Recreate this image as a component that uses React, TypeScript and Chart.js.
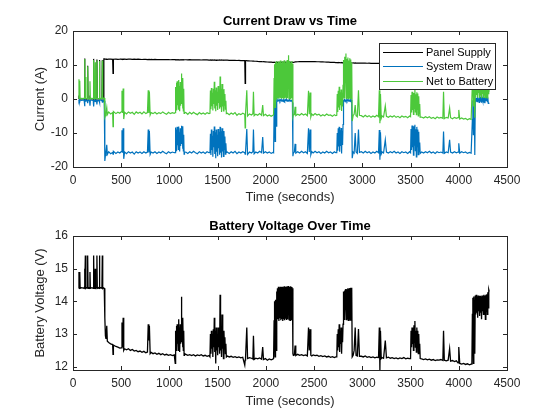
import React, { useRef, useEffect } from 'react';
import { Chart, registerables } from 'chart.js';

Chart.register(...registerables);

const AXIS_COLOR = '#262626';
const FONT = "'Liberation Sans', Arial, Helvetica, sans-serif";

const PANEL_COLOR = '#000000';
const SYSTEM_COLOR = '#0072BD';
const NET_COLOR = '#4CC83A';
const VOLT_COLOR = '#000000';

// sample times in seconds, shared by all four logged channels
const timeS = [
    // start-up, battery floating
    60, 62, 66, 70, 74, 90, 112, 116, 120, 124,
    128, 134, 148, 152, 156, 162, 172, 176, 180, 196,
    210, 214, 218, 226, 230, 234, 244, 248, 252, 262,
    270, 274, 278, 290, 300, 304, 308, 314, 320, 324,
    // load switched on
    330, 336, 342, 350, 356, 370, 390, 411, 415, 419,
    445, 465, 485, 500, 508, 514, 520, 526, 535, 555,
    575, 595, 615, 635, 655, 675, 695, 715, 735, 755,
    772, 780, 786, 792, 800, 810, 830, 850, 870, 890,
    910, 930, 950, 970, 990, 1010, 1030, 1050,
    1060, 1064, 1068, 1072, 1076, 1080, 1084, 1088, 1092, 1096,
    1100, 1104, 1108, 1112, 1116, 1120, 1124, 1128, 1132, 1136,
    1140, 1144, 1148, 1152, 1156,
    1170, 1190, 1210, 1230, 1250, 1270, 1290, 1310, 1330, 1350, 1370, 1390, 1410,
    1420, 1425, 1430, 1435, 1440, 1445, 1450, 1455, 1460, 1465,
    1470, 1475, 1480, 1485, 1490, 1495, 1500, 1505, 1510, 1515,
    1520, 1525, 1530, 1535, 1540, 1545, 1550, 1555, 1560, 1565,
    1570, 1575, 1580, 1585, 1590,
    1600, 1620, 1640, 1660, 1680, 1700, 1720, 1740, 1760, 1781,
    1785, 1789, 1802, 1810, 1830, 1850, 1865, 1871, 1878, 1895,
    1915, 1935, 1955, 1967, 1975, 1995, 2015, 2035, 2055, 2072,
    2080, 2085, 2090, 2095, 2100, 2105, 2110, 2115, 2120, 2125,
    2130, 2135, 2140, 2145, 2150, 2155, 2160, 2165, 2170, 2175,
    2180, 2185, 2190, 2195, 2200, 2205, 2210, 2215, 2220, 2225,
    2230, 2235, 2240, 2245, 2250, 2255, 2260, 2265, 2270, 2275,
    2280, 2285,
    2295, 2303, 2310, 2330, 2350, 2370, 2390, 2410, 2430, 2442,
    2450, 2458, 2466, 2475, 2490, 2510, 2530, 2550, 2570, 2590,
    2610, 2630, 2650, 2670, 2690, 2710, 2725,
    2735, 2740, 2745, 2750, 2755, 2760, 2765, 2770, 2775, 2780,
    2785, 2790, 2795, 2800, 2805, 2810, 2815, 2820, 2825, 2830,
    2835, 2840, 2845, 2850, 2855, 2860, 2865, 2870, 2875, 2880,
    2885, 2890, 2895, 2905, 2915, 2926, 2935, 2948, 2960, 2970,
    2990, 3010, 3030, 3050, 3070, 3090, 3110, 3130, 3150, 3168,
    3176, 3182, 3188, 3196, 3205, 3220, 3238, 3250, 3270, 3290,
    3310, 3330, 3350, 3370, 3390, 3410, 3430, 3450, 3470, 3490,
    3500, 3505, 3510, 3515, 3520, 3525, 3530, 3535, 3540, 3545,
    3550, 3555, 3560, 3565, 3570, 3575, 3580, 3585, 3590, 3595,
    3600,
    3615, 3635, 3655, 3675, 3695, 3715, 3735, 3755, 3775, 3795,
    3815, 3835, 3842, 3850, 3870, 3890, 3905, 3915, 3935, 3955,
    3975, 3992, 4000, 4010, 4030, 4050, 4070, 4090, 4110, 4128,
    4136, 4141, 4146, 4151, 4156, 4161, 4166, 4171, 4176, 4181,
    4186, 4191, 4196, 4201, 4206, 4211, 4216, 4221, 4226, 4231,
    4236, 4241, 4246, 4251, 4256, 4261, 4266, 4271, 4276, 4281,
    4286, 4291, 4296, 4301, 4306, 4311, 4316,
];

// amps from the panel
const panelSupply = [
    0, 0.3, 0, 0.2, 0, 0.1, 0, 0, 11.9, 0,
    0.2, 0, 0, 9.8, 0, 0, 0, 0.3, 0, 0,
    0, 11.8, 0, 0, 0.4, 0, 0, 11.6, 0, 0,
    0, 11.5, 0, 0, 0, 11.4, 0, 0, 11.8, 11.8,
    11.8, 11.75, 11.7, 11.72, 11.68, 11.74, 11.7, 11.66, 7.5, 11.7,
    11.72, 11.68, 11.7, 11.74, 11.66, 11.7, 11.68, 11.72, 11.7, 11.66,
    11.7, 11.73, 11.67, 11.7, 11.64, 11.7, 11.66, 11.62, 11.68, 11.64,
    11.6, 11.66, 11.62, 11.65, 11.6, 11.64, 11.6, 11.66, 11.58, 11.62,
    11.6, 11.56, 11.62, 11.58, 11.6, 11.55, 11.6, 11.56,
    11.56, 11.54, 11.57, 11.55, 11.53, 11.56, 11.54, 11.55, 11.57, 11.53,
    11.55, 11.56, 11.54, 11.55, 11.53, 11.56, 11.54, 11.55, 11.57, 11.54,
    11.55, 11.53, 11.56, 11.54, 11.55,
    11.55, 11.52, 11.56, 11.5, 11.54, 11.49, 11.53, 11.5, 11.47, 11.52, 11.48, 11.5, 11.46,
    11.46, 11.5, 11.45, 11.48, 11.47, 11.44, 11.49, 11.46, 11.45, 11.48,
    11.44, 11.47, 11.45, 11.46, 11.43, 11.47, 11.44, 11.46, 11.45, 11.42,
    11.46, 11.44, 11.45, 11.43, 11.46, 11.42, 11.45, 11.43, 11.44, 11.41,
    11.45, 11.43, 11.44, 11.42, 11.43,
    11.42, 11.38, 11.4, 11.35, 11.37, 11.32, 11.34, 11.3, 11.28, 11.3,
    4.6, 11.25, 11.27, 11.24, 11.2, 11.18, 11.15, 11.17, 11.12, 11.1,
    11.05, 11.02, 10.98, 10.95, 10.97, 10.92, 10.88, 10.85, 10.82, 10.8,
    10.8, 10.82, 10.79, 10.81, 10.8, 10.78, 10.8, 10.82, 10.79, 10.8,
    10.81, 10.78, 10.8, 10.79, 10.81, 10.8, 10.78, 10.8, 10.82, 10.79,
    10.8, 10.81, 10.78, 10.8, 10.79, 10.81, 10.8, 10.78, 10.8, 10.82,
    10.79, 10.8, 10.81, 10.78, 10.8, 10.79, 10.81, 10.8, 10.78, 10.8,
    10.82, 10.8,
    10.85, 10.9, 10.92, 10.95, 10.98, 11.0, 11.02, 11.0, 11.03, 11.0,
    11.02, 10.99, 11.01, 10.98, 11.0, 10.97, 10.95, 10.96, 10.92, 10.9,
    10.88, 10.86, 10.84, 10.8, 10.78, 10.75, 10.72,
    10.7, 10.72, 10.68, 10.7, 10.71, 10.67, 10.7, 10.69, 10.66, 10.68,
    10.7, 10.65, 10.68, 10.66, 10.67, 10.64, 10.66, 10.65, 10.63, 10.66,
    10.64, 10.62, 10.65, 10.63, 10.61, 10.64, 10.62, 10.6, 10.63, 10.61,
    10.6, 10.62, 10.59, 10.6, 10.58, 10.6, 10.57, 10.59, 10.56, 10.58,
    10.56, 10.54, 10.55, 10.52, 10.53, 10.5, 10.52, 10.49, 10.5, 10.48,
    10.5, 10.47, 10.49, 10.46, 10.48, 10.46, 10.47, 10.44, 10.46, 10.43,
    10.45, 10.42, 10.44, 10.41, 10.43, 10.4, 10.42, 10.39, 10.41, 10.38,
    10.38, 10.4, 10.37, 10.39, 10.36, 10.38, 10.37, 10.39, 10.36, 10.38,
    10.35, 10.37, 10.36, 10.38, 10.35, 10.37, 10.34, 10.36, 10.35, 10.37,
    10.34,
    10.35, 10.33, 10.34, 10.32, 10.33, 10.31, 10.32, 10.3, 10.31, 10.29,
    10.3, 10.28, 10.3, 10.27, 10.29, 10.27, 10.28, 10.26, 10.27, 10.25,
    10.26, 10.24, 10.25, 10.24, 10.22, 10.23, 10.21, 10.22, 10.2, 10.21,
    10.2, 10.21, 10.19, 10.2, 10.18, 10.2, 10.19, 10.21, 10.2, 10.18,
    10.2, 10.19, 10.2, 10.18, 10.2, 10.19, 10.21, 10.2, 10.18, 10.19,
    10.2, 10.18, 10.2, 10.19, 10.17, 10.2, 10.18, 10.19, 10.17, 10.2,
    10.18, 10.19, 10.17, 10.18, 10.2, 10.18, 10.17,
];

// amps drawn by the system (negative = consumed)
const systemDraw = [
    -0.3, -0.6, -0.2, -0.8, -0.3, -0.4, -0.3, -0.5, -2.1, -0.4,
    -0.6, -0.3, -0.5, -1.2, -0.4, -0.3, -0.6, -2.0, -0.4, -0.3,
    -0.5, -2.2, -0.4, -0.3, -0.7, -0.4, -0.3, -1.6, -0.4, -0.5,
    -0.3, -1.0, -0.4, -0.3, -0.5, -0.9, -0.4, -0.3, -0.6, -0.5,
    -18.2, -16.6, -15.6, -13.5, -16.3, -15.5, -16.1, -15.7, -16.2, -15.4,
    -16.0, -15.6, -15.9, -15.5, -9.2, -15.8, -8.6, -17.6, -15.6, -16.1,
    -15.5, -15.9, -15.6, -16.2, -15.5, -15.9, -15.6, -16.0, -15.5, -15.9,
    -15.6, -9.0, -15.7, -9.4, -16.3, -15.6, -15.9, -15.5, -16.0, -15.6,
    -15.9, -15.4, -15.8, -16.1, -15.5, -15.9, -15.6, -15.8,
    -15.8, -8.4, -15.2, -9.0, -14.3, -8.2, -13.6, -9.5, -14.8, -8.1,
    -14.0, -9.8, -15.4, -8.6, -13.8, -9.2, -7.9, -13.2, -8.5, -14.6,
    -8.0, -15.3, -10.5, -16.2, -15.7,
    -15.6, -16.0, -15.5, -15.9, -15.4, -15.8, -16.1, -15.5, -15.9, -15.6, -16.0, -15.5, -15.8,
    -15.8, -10.2, -16.5, -9.0, -15.0, -10.8, -17.0, -9.4, -14.2, -8.1,
    -16.2, -9.8, -17.4, -9.0, -15.5, -10.5, -16.8, -8.8, -14.5, -9.6,
    -16.4, -8.2, -15.8, -9.5, -17.2, -8.6, -15.4, -10.2, -16.9, -9.4,
    -14.8, -11.0, -16.2, -13.0, -15.8,
    -15.6, -16.0, -15.5, -15.9, -15.4, -16.1, -15.6, -15.9, -15.5, -15.8,
    -16.2, -15.7, -8.8, -16.3, -15.6, -15.9, -15.5, -9.0, -16.1, -15.6,
    -15.9, -15.4, -15.8, -11.2, -15.9, -15.5, -15.9, -15.6, -16.0, -15.7,
    -15.8, -4.0, -1.2, -12.5, -0.8, -8.0, -0.5, -0.3, -0.6, -0.2,
    -0.5, -0.4, -0.3, -0.6, -0.2, -0.4, -0.5, -0.3, -0.6, -0.4,
    -0.2, -0.5, -0.3, -0.6, -0.4, -0.3, -0.5, -0.2, -0.6, -0.4,
    -0.3, -0.5, -0.4, -0.2, -0.6, -0.3, -0.5, -0.4, -0.6, -1.0,
    -16.8, -15.9,
    -15.6, -13.2, -15.9, -15.5, -15.9, -15.4, -15.8, -15.5, -16.0, -8.6,
    -15.6, -9.0, -16.4, -15.5, -15.9, -15.4, -15.8, -15.5, -16.0, -15.6,
    -15.9, -15.4, -15.8, -15.6, -16.0, -15.5, -15.8,
    -15.8, -10.0, -15.2, -8.6, -14.0, -8.2, -15.5, -9.2, -13.8, -8.5,
    -16.0, -9.4, -13.5, -7.5, -0.5, -0.3, -0.6, -0.2, -0.4, -0.5,
    -0.3, -0.6, -0.2, -0.4, -0.5, -0.3, -0.6, -0.4, -0.2, -0.5,
    -0.3, -1.0, -17.4, -15.6, -15.9, -10.0, -15.6, -16.0, -9.0, -15.7,
    -15.5, -15.9, -15.4, -15.8, -15.5, -16.0, -15.6, -15.9, -15.4, -15.8,
    -9.1, -17.9, -9.8, -16.2, -15.6, -15.9, -12.0, -15.6, -15.9, -15.5,
    -15.8, -15.4, -15.9, -15.6, -16.0, -15.5, -15.8, -15.6, -16.0, -15.5,
    -15.8, -8.8, -15.0, -7.8, -14.2, -8.5, -16.5, -8.0, -13.6, -7.6,
    -15.2, -8.9, -17.0, -8.2, -14.0, -9.0, -16.4, -9.6, -15.5, -12.8,
    -16.0,
    -15.6, -15.9, -15.5, -15.8, -15.4, -15.9, -15.6, -16.0, -15.5, -15.8,
    -15.6, -15.9, -9.6, -16.0, -15.6, -15.8, -12.0, -15.6, -15.9, -15.5,
    -15.8, -15.6, -13.0, -15.9, -15.5, -15.8, -15.6, -16.0, -15.7, -15.9,
    -15.9, -6.0, -0.4, -10.5, -0.3, -1.0, -16.5, -0.2, 0.5, -0.6,
    0.3, -0.8, 0.6, -0.4, 0.2, -1.0, 0.4, -0.6, 0.7, -0.3,
    -1.1, 0.5, -0.5, 0.2, -0.9, 0.6, -0.4, -1.2, 0.3, -0.6,
    0.5, -0.2, -0.8, 0.4, -1.3, -1.2, -1.3,
];

// amps into (+) or out of (-) the battery
const netToBattery = [
    0.2, 5.8, 0.3, 5.4, 0.1, 0.2, 0.1, 0.3, 11.8, 0.2,
    6.5, 0.2, 0.1, 9.6, 0.2, 0.1, 0.3, 5.2, 0.1, 0.2,
    0.1, 11.5, 0.3, 0.1, 10.8, 0.2, 0.1, 11.4, 0.3, 0.1,
    0.2, 11.2, 0.1, 0.2, 0.1, 11.3, 0.2, 0.1, 0.3, 0.3,
    -5.4, -4.9, -3.9, -2.5, -4.6, -3.8, -4.4, -4.0, -8.1, -3.7,
    -4.3, -3.9, -4.2, -3.8, 2.4, -4.1, 3.1, -5.9, -3.9, -4.4,
    -3.8, -4.2, -3.9, -4.5, -3.8, -4.2, -3.9, -4.4, -3.8, -4.3,
    -4.0, 2.6, -4.1, 2.2, -4.7, -4.0, -4.3, -3.9, -4.4, -4.0,
    -4.3, -3.8, -4.2, -4.5, -3.9, -4.3, -4.0, -4.2,
    -4.0, 3.5, -3.2, 4.8, -2.5, 5.2, -1.8, 4.1, -3.0, 5.6,
    -2.2, 3.8, -3.6, 5.0, -2.0, 4.4, 7.5, -1.5, 5.3, -2.8,
    6.2, -3.5, 3.0, -4.2, -3.9,
    -4.0, -4.5, -3.9, -4.4, -3.9, -4.3, -4.6, -4.0, -4.4, -4.1, -4.5, -4.0, -4.3,
    -4.2, 2.5, -3.0, 3.2, -2.1, 1.8, -3.4, 3.0, -1.5, 5.1,
    -2.8, 2.6, -3.6, 3.4, -2.0, 2.1, -3.2, 3.8, -1.2, 2.8,
    -2.9, 6.6, -2.4, 3.0, -3.8, 4.4, -2.2, 2.4, -3.5, 2.9,
    -1.8, 1.5, -3.0, -0.5, -4.3,
    -4.2, -4.6, -4.1, -4.5, -4.0, -4.8, -4.3, -4.6, -4.2, -4.5,
    -8.5, -4.4, 2.6, -5.0, -4.4, -4.7, -4.3, 2.1, -4.9, -4.5,
    -4.8, -4.3, -4.8, -1.8, -4.9, -4.5, -5.0, -4.7, -5.1, -4.8,
    -4.6, 6.0, 10.2, -2.5, 10.8, 0.5, 11.2, 0.1, 10.6, 0.3,
    11.0, 0.0, 10.7, 0.4, 11.3, 0.2, 10.5, 0.1, 11.1, 0.3,
    10.8, 0.0, 11.4, 0.2, 10.6, 0.4, 11.0, 0.1, 11.5, 0.3,
    10.9, 12.9, 0.2, 11.2, 0.0, 10.7, 0.3, 11.1, 0.2, 10.4,
    -5.2, -4.6,
    -4.6, -2.3, -4.9, -4.5, -4.8, -4.3, -4.7, -4.4, -4.9, 2.4,
    -4.5, 1.9, -5.3, -4.4, -4.8, -4.3, -4.7, -4.5, -5.0, -4.6,
    -4.9, -4.4, -4.8, -4.7, -5.1, -4.6, -4.9,
    -4.8, 1.5, -3.8, 2.4, -2.5, 3.6, -3.2, 2.0, -1.8, 2.8,
    -3.5, 1.8, -2.2, 4.0, 11.5, 0.3, 12.4, 0.5, 11.0, 13.4,
    0.2, 11.8, 0.4, 12.2, 0.1, 11.3, 0.5, 12.0, 0.2, 11.6,
    0.3, 10.8, -6.5, -4.8, -4.5, -1.8, -4.9, -5.2, 2.6, -4.8,
    -4.9, -5.3, -4.8, -5.2, -4.9, -5.4, -5.0, -5.3, -4.8, -5.2,
    2.6, -7.1, 1.5, -5.7, -5.0, -5.3, -2.0, -5.1, -5.4, -5.0,
    -5.3, -4.9, -5.4, -5.1, -5.5, -5.0, -5.3, -5.1, -5.5, -5.0,
    -5.2, 1.2, -4.0, 2.1, -3.2, 1.5, -4.5, 1.8, -2.8, 2.9,
    -3.8, 1.4, -4.6, 2.0, -3.0, 1.6, -5.0, 0.8, -4.2, -1.5,
    -5.4,
    -5.3, -5.6, -5.2, -5.5, -5.2, -5.7, -5.4, -5.8, -5.3, -5.6,
    -5.4, -5.7, 2.1, -5.8, -5.4, -5.6, -2.7, -5.5, -5.8, -5.4,
    -5.7, -5.5, -3.2, -5.9, -5.6, -5.9, -5.7, -6.1, -5.8, -6.0,
    -6.0, 4.5, 6.0, -2.0, 5.2, 1.5, -5.5, 3.6, 0.6, 4.8,
    1.2, 3.4, 0.4, 5.0, 1.8, 3.0, 0.3, 4.2, 1.0, 3.5,
    0.2, 4.6, 1.5, 3.2, 0.5, 5.5, 1.2, 2.8, 0.4, 4.0,
    1.0, 3.6, 0.3, 4.4, 1.6, 3.0, 2.2,
];

// battery terminal voltage
const batteryVoltage = [
    14.4, 14.9, 14.4, 14.9, 14.4, 14.42, 14.4, 14.42, 15.0, 14.4,
    15.4, 14.4, 14.42, 15.4, 14.4, 14.42, 14.4, 14.9, 14.4, 14.42,
    14.4, 15.4, 14.4, 14.42, 15.0, 14.4, 14.42, 15.4, 14.4, 14.42,
    14.4, 15.4, 14.4, 14.42, 14.4, 15.4, 14.4, 14.42, 14.4, 14.4,
    13.5, 12.95, 12.85, 13.25, 12.78, 12.74, 12.7, 12.68, 12.38, 12.66,
    12.62, 12.6, 12.57, 12.58, 13.35, 12.6, 13.5, 12.5, 12.55, 12.52,
    12.55, 12.5, 12.53, 12.48, 12.5, 12.46, 12.48, 12.44, 12.47, 12.43,
    12.45, 13.3, 12.8, 13.25, 12.4, 12.44, 12.4, 12.42, 12.38, 12.41,
    12.37, 12.4, 12.36, 12.38, 12.35, 12.37, 12.34, 12.36,
    12.1, 13.1, 12.5, 13.25, 12.6, 13.3, 12.7, 13.2, 12.5, 13.45,
    12.65, 13.2, 12.45, 13.3, 12.7, 13.25, 14.14, 12.75, 13.3, 12.6,
    13.5, 12.5, 13.1, 12.35, 12.4,
    12.38, 12.35, 12.37, 12.34, 12.37, 12.33, 12.36, 12.34, 12.37, 12.33, 12.35, 12.32, 12.34,
    12.3, 13.0, 12.4, 13.1, 12.55, 13.0, 12.3, 13.15, 12.6, 13.5,
    12.45, 13.1, 12.1, 13.2, 12.5, 13.0, 12.35, 13.2, 12.6, 13.1,
    12.4, 14.2, 12.5, 13.15, 12.3, 13.6, 12.55, 13.05, 12.25, 13.1,
    12.6, 12.9, 12.4, 12.7, 12.3,
    12.33, 12.3, 12.32, 12.29, 12.31, 12.28, 12.3, 12.27, 12.29, 12.05,
    12.2, 12.27, 13.2, 12.25, 12.28, 12.26, 12.24, 12.95, 12.22, 12.26,
    12.24, 12.27, 12.23, 12.6, 12.22, 12.25, 12.2, 12.24, 12.21, 12.23,
    12.25, 13.4, 14.0, 12.3, 14.05, 12.5, 14.3, 13.5, 14.4, 13.45,
    14.45, 13.4, 14.42, 13.48, 14.45, 13.42, 14.44, 13.46, 14.45, 13.4,
    14.43, 13.45, 14.46, 13.42, 14.44, 13.47, 14.45, 13.43, 14.46, 13.45,
    14.44, 14.47, 13.44, 14.45, 13.42, 14.46, 13.46, 14.44, 13.43, 14.4,
    12.4, 12.35,
    12.36, 12.65, 12.34, 12.38, 12.35, 12.37, 12.34, 12.36, 12.33, 13.2,
    12.5, 13.15, 12.35, 12.33, 12.36, 12.34, 12.35, 12.32, 12.34, 12.31,
    12.33, 12.3, 12.32, 12.29, 12.31, 12.28, 12.3,
    12.3, 13.0, 12.5, 13.15, 12.6, 13.3, 12.45, 13.1, 12.7, 13.2,
    12.4, 13.05, 12.75, 13.3, 14.3, 13.45, 14.33, 13.5, 14.35, 14.38,
    13.44, 14.37, 13.48, 14.4, 13.42, 14.39, 13.46, 14.41, 13.43, 14.42,
    13.47, 14.42, 12.3, 12.35, 12.5, 13.2, 12.35, 12.33, 13.15, 12.32,
    12.32, 12.3, 12.33, 12.29, 12.31, 12.28, 12.3, 12.27, 12.29, 12.28,
    13.2, 11.9, 13.1, 12.25, 12.28, 12.26, 12.8, 12.27, 12.29, 12.26,
    12.28, 12.25, 12.27, 12.24, 12.27, 12.25, 12.28, 12.24, 12.26, 12.25,
    12.25, 13.1, 12.6, 13.2, 12.7, 13.15, 12.5, 13.27, 12.75, 13.4,
    12.6, 13.1, 12.45, 13.2, 12.7, 13.1, 12.4, 13.0, 12.5, 12.7,
    12.25,
    12.24, 12.22, 12.24, 12.21, 12.23, 12.2, 12.22, 12.19, 12.21, 12.2,
    12.22, 12.19, 13.1, 12.2, 12.18, 12.2, 12.55, 12.17, 12.19, 12.16,
    12.18, 12.12, 12.6, 12.1, 12.08, 12.1, 12.07, 12.09, 12.06, 12.08,
    12.1, 13.6, 14.11, 12.1, 14.15, 13.55, 12.4, 14.18, 13.6, 14.2,
    13.65, 14.15, 13.5, 14.18, 13.7, 14.16, 13.55, 14.17, 13.65, 14.14,
    13.45, 14.18, 13.7, 14.16, 13.6, 14.2, 13.75, 14.17, 13.45, 14.2,
    13.7, 14.22, 13.6, 14.28, 13.8, 14.36, 14.3,
];

const timeTicks = [0, 500, 1000, 1500, 2000, 2500, 3000, 3500, 4000, 4500];
const currentTicks = [-20, -10, 0, 10, 20];
const voltageTicks = [12, 13, 14, 15, 16];

const toPoints = (values: number[]) => timeS.map((t, i) => ({ x: t, y: values[i] }));

// matlab style box with inward ticks on all four sides
const axesBox = {
    id: 'axesBox',
    afterDatasetsDraw(chart: any) {
        const { ctx, chartArea: a, scales } = chart;
        const len = 4;
        ctx.save();
        ctx.strokeStyle = AXIS_COLOR;
        ctx.lineWidth = 1;
        ctx.beginPath();
        scales.x.ticks.forEach((t: any) => {
            const px = Math.round(scales.x.getPixelForValue(t.value)) + 0.5;
            ctx.moveTo(px, a.bottom);
            ctx.lineTo(px, a.bottom - len);
            ctx.moveTo(px, a.top);
            ctx.lineTo(px, a.top + len);
        });
        scales.y.ticks.forEach((t: any) => {
            const py = Math.round(scales.y.getPixelForValue(t.value)) + 0.5;
            ctx.moveTo(a.left, py);
            ctx.lineTo(a.left + len, py);
            ctx.moveTo(a.right, py);
            ctx.lineTo(a.right - len, py);
        });
        ctx.stroke();
        ctx.strokeRect(Math.round(a.left) + 0.5, Math.round(a.top) + 0.5, Math.round(a.width), Math.round(a.height));
        ctx.restore();
    },
};

// legend box inside the top right corner
const insideLegend = {
    id: 'insideLegend',
    afterDatasetsDraw(chart: any) {
        const { ctx, chartArea } = chart;
        const w = 116;
        const h = 46;
        const rowH = 14.3;
        const left = Math.round(chartArea.right - 12 - w);
        const top = Math.round(chartArea.top + 12);
        ctx.save();
        ctx.fillStyle = '#ffffff';
        ctx.fillRect(left, top, w, h);
        ctx.strokeStyle = AXIS_COLOR;
        ctx.lineWidth = 1;
        ctx.strokeRect(left + 0.5, top + 0.5, w, h);
        ctx.font = `11px ${FONT}`;
        ctx.textBaseline = 'middle';
        chart.data.datasets.forEach((ds: any, i: number) => {
            const y = Math.round(top + 9 + i * rowH) + 0.5;
            ctx.strokeStyle = ds.borderColor;
            ctx.beginPath();
            ctx.moveTo(left + 4, y);
            ctx.lineTo(left + 44, y);
            ctx.stroke();
            ctx.fillStyle = '#000000';
            ctx.fillText(ds.label, left + 47, y);
        });
        ctx.restore();
    },
};

function buildConfig(p: any): any {
    const tickFont = { family: FONT, size: 12 };
    const labelFont = { family: FONT, size: 13 };
    return {
        type: 'line',
        data: { datasets: p.datasets },
        options: {
            responsive: false,
            animation: false,
            events: [],
            layout: { padding: { left: 0, right: 53, top: 0, bottom: 0 } },
            elements: {
                point: { radius: 0, hoverRadius: 0 },
                line: { borderWidth: p.lineWidth, tension: 0 },
            },
            plugins: {
                legend: { display: false },
                tooltip: { enabled: false },
                title: {
                    display: true,
                    fullSize: false,
                    text: p.title,
                    color: '#000000',
                    font: { family: FONT, size: 13, weight: 'bold' },
                    padding: { top: p.titleTop, bottom: p.titleBottom },
                },
            },
            scales: {
                x: {
                    type: 'linear',
                    min: 0,
                    max: 4500,
                    afterBuildTicks: (s: any) => { s.ticks = timeTicks.map((v) => ({ value: v })); },
                    afterFit: (s: any) => { s.height = p.xHeight; },
                    grid: { display: false, drawTicks: false },
                    border: { display: false },
                    ticks: {
                        padding: 6,
                        color: AXIS_COLOR,
                        font: tickFont,
                        maxRotation: 0,
                        autoSkip: false,
                        callback: (v: any) => String(v),
                    },
                    title: {
                        display: true,
                        text: 'Time (seconds)',
                        color: AXIS_COLOR,
                        font: labelFont,
                        padding: { top: 0, bottom: p.xTitleBottom },
                    },
                },
                y: {
                    type: 'linear',
                    min: p.yMin,
                    max: p.yMax,
                    afterBuildTicks: (s: any) => { s.ticks = p.yTicks.map((v: number) => ({ value: v })); },
                    afterFit: (s: any) => { s.width = 73; },
                    grid: { display: false, drawTicks: false },
                    border: { display: false },
                    ticks: {
                        padding: 5,
                        color: AXIS_COLOR,
                        font: tickFont,
                        autoSkip: false,
                        callback: (v: any) => String(v),
                    },
                    title: {
                        display: true,
                        text: p.yTitle,
                        color: AXIS_COLOR,
                        font: labelFont,
                        padding: { top: 33, bottom: 0 },
                    },
                },
            },
        },
        plugins: p.plugins,
    };
}

const ChartCanvas: React.FC<{ makeConfig: () => any }> = ({ makeConfig }) => {
    const canvasRef = useRef<HTMLCanvasElement>(null);

    useEffect(() => {
        if (!canvasRef.current) return;
        const chart = new Chart(canvasRef.current, makeConfig());
        return () => { chart.destroy(); };
    }, [makeConfig]);

    return <canvas ref={canvasRef} width={560} height={210} style={{ display: 'block', width: 560, height: 210 }} />;
};

const currentConfig = () => buildConfig({
    title: 'Current Draw vs Time',
    titleTop: 13.7,
    titleBottom: 1.7,
    yTitle: 'Current (A)',
    yMin: -20,
    yMax: 20,
    yTicks: currentTicks,
    xHeight: 43,
    xTitleBottom: 5,
    lineWidth: 1.2,
    datasets: [
        { label: 'Panel Supply', data: toPoints(panelSupply), borderColor: PANEL_COLOR, backgroundColor: PANEL_COLOR, order: 3 },
        { label: 'System Draw', data: toPoints(systemDraw), borderColor: SYSTEM_COLOR, backgroundColor: SYSTEM_COLOR, order: 2 },
        { label: 'Net to Battery', data: toPoints(netToBattery), borderColor: NET_COLOR, backgroundColor: NET_COLOR, order: 1 },
    ],
    plugins: [axesBox, insideLegend],
});

const voltageConfig = () => buildConfig({
    title: 'Battery Voltage Over Time',
    titleTop: 8.7,
    titleBottom: 1.7,
    yTitle: 'Battery Voltage (V)',
    yMin: 11.9,
    yMax: 16,
    yTicks: voltageTicks,
    xHeight: 50,
    xTitleBottom: 11,
    lineWidth: 1.3,
    datasets: [
        { label: 'Battery Voltage', data: toPoints(batteryVoltage), borderColor: VOLT_COLOR, backgroundColor: VOLT_COLOR },
    ],
    plugins: [axesBox],
});

export default function App() {
    return (
        <div style={{ position: 'fixed', left: 0, top: 0, width: 560, height: 420, background: '#ffffff' }}>
            <ChartCanvas makeConfig={currentConfig} />
            <ChartCanvas makeConfig={voltageConfig} />
        </div>
    );
}
